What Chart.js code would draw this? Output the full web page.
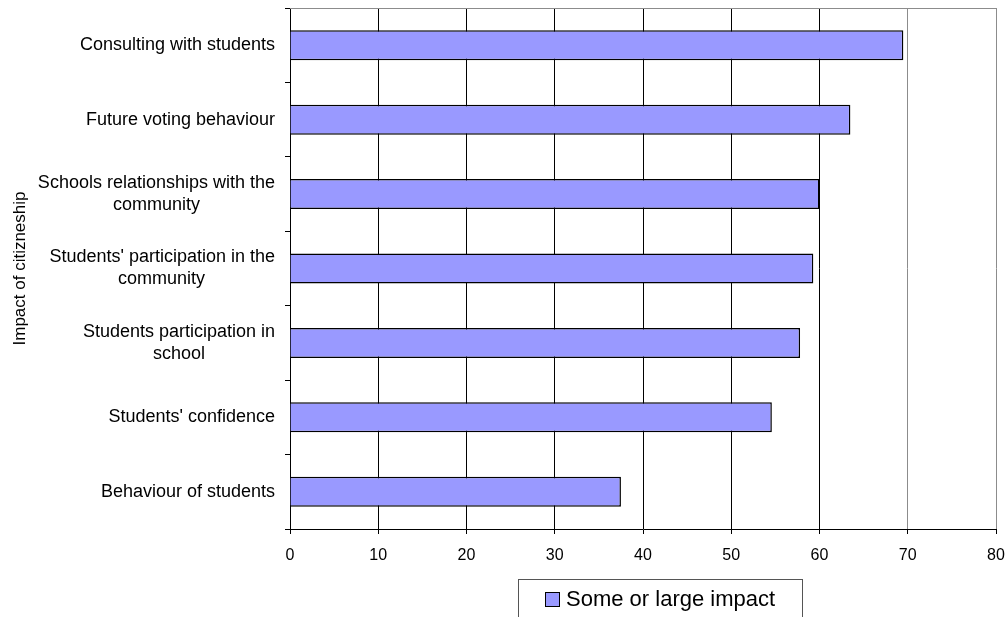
<!DOCTYPE html>
<html>
<head>
<meta charset="utf-8">
<script src="https://cdn.jsdelivr.net/npm/chart.js@4/dist/chart.umd.min.js"></script>
<style>
  html, body { margin: 0; padding: 0; background: #fff; }
  #wrap { width: 1008px; height: 617px; }
</style>
</head>
<body>
<div id="wrap"><canvas id="chart" width="1008" height="617"></canvas></div>
<script>
const CATEGORIES = [
  'Consulting with students',
  'Future voting behaviour',
  ['Schools relationships with the', 'community'],
  ["Students' participation in the", 'community'],
  ['Students participation in', 'school'],
  "Students' confidence",
  'Behaviour of students',
];
const VALUES = [69.5, 63.5, 60, 59.3, 57.8, 54.6, 37.5];
const SERIES_LABEL = 'Some or large impact';
const AXIS_TITLE = 'Impact of citizneship';
const X_MIN = 0;
const X_MAX = 80;
const X_STEP = 10;

const FONT = 'Arial, "Liberation Sans", sans-serif';
const CAT_FONT_SIZE = 18;
const BAR_FILL = '#9999ff';
const FRAME_GREY = '#8c8c8c';

// centre the short lines of a wrapped label under the long one
// (labels are right-aligned, so pad them with trailing spaces)
const measureCtx = document.createElement('canvas').getContext('2d');
function centreLines(label) {
  if (!Array.isArray(label)) return label;
  measureCtx.font = CAT_FONT_SIZE + 'px ' + FONT;
  const widths = label.map(s => measureCtx.measureText(s).width);
  const widest = Math.max(...widths);
  const space = measureCtx.measureText(' ').width;
  return label.map((s, i) => s + ' '.repeat(Math.round((widest - widths[i]) / 2 / space)));
}

// gray top edge of the plot frame
const frameTop = {
  id: 'frameTop',
  afterDatasetsDraw(chart) {
    const { ctx, chartArea } = chart;
    ctx.save();
    ctx.strokeStyle = FRAME_GREY;
    ctx.lineWidth = 1;
    ctx.beginPath();
    ctx.moveTo(chartArea.left, chartArea.top + 0.5);
    ctx.lineTo(chartArea.right, chartArea.top + 0.5);
    ctx.stroke();
    ctx.restore();
  },
};

// boxed legend below the axis, partly cut off by the bottom edge
const boxLegend = {
  id: 'boxLegend',
  afterDraw(chart) {
    const { ctx } = chart;
    const ds = chart.data.datasets[0];
    ctx.save();
    ctx.strokeStyle = '#555';
    ctx.lineWidth = 1;
    ctx.strokeRect(518.5, 579.5, 284, 60);
    ctx.fillStyle = ds.backgroundColor;
    ctx.fillRect(545, 592, 15, 15);
    ctx.strokeStyle = '#000';
    ctx.strokeRect(545.5, 592.5, 14, 14);
    ctx.fillStyle = '#000';
    ctx.font = '22px ' + FONT;
    ctx.textBaseline = 'middle';
    ctx.fillText(ds.label, 566, 600);
    ctx.restore();
  },
};

new Chart(document.getElementById('chart'), {
  type: 'bar',
  data: {
    labels: CATEGORIES,
    datasets: [{
      label: SERIES_LABEL,
      data: VALUES,
      backgroundColor: BAR_FILL,
      borderColor: '#000',
      borderWidth: 1.5,
      categoryPercentage: 1,
      barPercentage: 0.403,
    }],
  },
  options: {
    indexAxis: 'y',
    responsive: false,
    animation: false,
    layout: { padding: { top: 8, right: 12, bottom: 0, left: 0 } },
    plugins: {
      legend: { display: false },
      tooltip: { enabled: false },
    },
    scales: {
      x: {
        min: X_MIN,
        max: X_MAX,
        ticks: {
          stepSize: X_STEP,
          color: '#000',
          font: { family: FONT, size: 16 },
          padding: 12,
          maxRotation: 0,
        },
        grid: {
          color: c => (c.tick && c.tick.value >= 70 ? FRAME_GREY : '#000'),
          tickColor: '#000',
          tickLength: 5,
          lineWidth: 1,
        },
        border: { color: '#000', width: 1 },
        afterFit(scale) {
          scale.height = 88;
          scale.paddingLeft = 0;
          scale.paddingRight = 0;
        },
      },
      y: {
        ticks: {
          color: '#000',
          font: { family: FONT, size: CAT_FONT_SIZE, lineHeight: 1.22 },
          padding: 10,
          autoSkip: false,
          callback(value) { return centreLines(this.getLabelForValue(value)); },
        },
        grid: {
          drawOnChartArea: false,
          tickLength: 5,
          color: '#000',
        },
        border: { color: '#000', width: 1 },
        title: {
          display: true,
          text: AXIS_TITLE,
          color: '#000',
          font: { family: FONT, size: 17 },
          padding: { top: 10, bottom: 0 },
        },
        afterFit(scale) {
          scale.width = 290;
          scale.paddingTop = 0;
          scale.paddingBottom = 0;
        },
      },
    },
  },
  plugins: [frameTop, boxLegend],
});
</script>
</body>
</html>
